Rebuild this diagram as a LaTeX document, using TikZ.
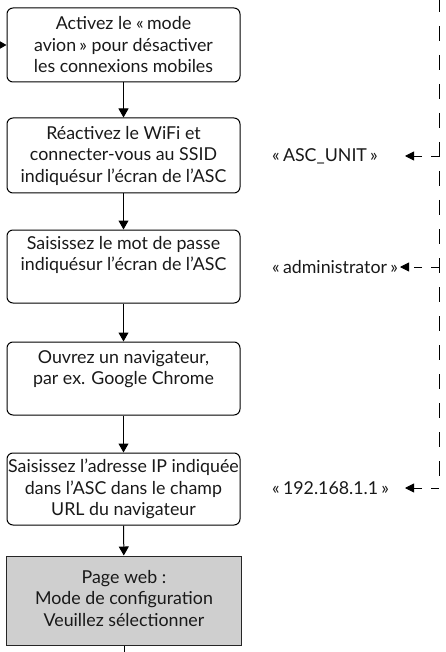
\documentclass[tikz,border=0pt]{standalone}
\usepackage{fontspec}
\setmainfont{Lato}
\usetikzlibrary{arrows.meta}
\newcommand{\gs}{\hspace{0.18em}}
\begin{document}
\begin{tikzpicture}[x=1pt,y=-1pt,
  font=\fontsize{17.8}{21.5}\selectfont,
  stepbox/.style={draw=black,line width=1pt,rounded corners=6pt,minimum width=233pt,inner sep=0pt,align=center,text=black!90},
  graybox/.style={draw=black!85,line width=1pt,fill=black!19,minimum width=235pt,inner sep=0pt,align=center,text=black!90},
  arr/.style={line width=1pt,-{Triangle[length=9pt,width=10pt]}},
  darr/.style={line width=0.85pt,dash pattern=on 8pt off 9pt,-{Triangle[length=9pt,width=9pt,sep=0pt]}},
  vdash/.style={line width=0.85pt,dash pattern=on 15pt off 14pt},
  lbl/.style={anchor=west,inner sep=0pt,text=black!90}]
\useasboundingbox (0,0) rectangle (446,652);
\node[stepbox,minimum height=74pt] (b1) at (123.5,45) {Activez le «\gs mode\\avion\gs» pour désactiver\\les connexions mobiles};
\node[stepbox,minimum height=75pt] (b2) at (123.5,155.5) {Réactivez le WiFi et\\connecter-vous au SSID\\indiquésur l’écran de l’ASC};
\node[stepbox,minimum height=73pt] (b3) at (123.5,266.5) {\raisebox{6pt}{\begin{tabular}{@{}c@{}}Saisissez le mot de passe\\indiquésur l’écran de l’ASC\\~\end{tabular}}};
\node[stepbox,minimum height=73pt] (b4) at (123.5,378.5) {Ouvrez un navigateur,\\par ex. Google Chrome\\~};
\node[stepbox,minimum height=72pt] (b5) at (123.5,489) {Saisissez l’adresse IP indiquée\\dans l’ASC dans le champ\\URL du navigateur};
\node[graybox,minimum height=89pt] (b6) at (124,600.5) {\raisebox{8pt}{\begin{tabular}{@{}c@{}}Page web :\\Mode de configuration\\Veuillez sélectionner\end{tabular}}};
\coordinate (in) at (-3,45);
\coordinate (out) at (124,655);
\draw[arr] (in) -- (b1.west);
\draw[arr] (b1) -- (b2);
\draw[arr] (b2) -- (b3);
\draw[arr] (b3) -- (b4);
\draw[arr] (b4) -- (b5);
\draw[arr] (b5) -- (b6);
\draw[line width=1pt] (b6.south) -- (out);
\node[lbl] (l1) at (272,156) {«\gs ASC\_UNIT\gs»};
\node[lbl] (l2) at (272,267) {«\gs administrator\gs»};
\node[lbl] (l3) at (272,488) {«\gs 192.168.1.1\gs»};
\coordinate (top) at (439,-3);
\coordinate (bot) at (439,488);
\coordinate (j1) at (439,156);
\coordinate (j2) at (439,267);
\coordinate (t1) at (405,156);
\coordinate (t2) at (400,267);
\coordinate (t3) at (405,488);
\draw[vdash] (top) -- (bot);
\draw[darr] (j1) -- (t1);
\draw[darr] (j2) -- (t2);
\draw[darr] (bot) -- (t3);
\end{tikzpicture}
\end{document}
